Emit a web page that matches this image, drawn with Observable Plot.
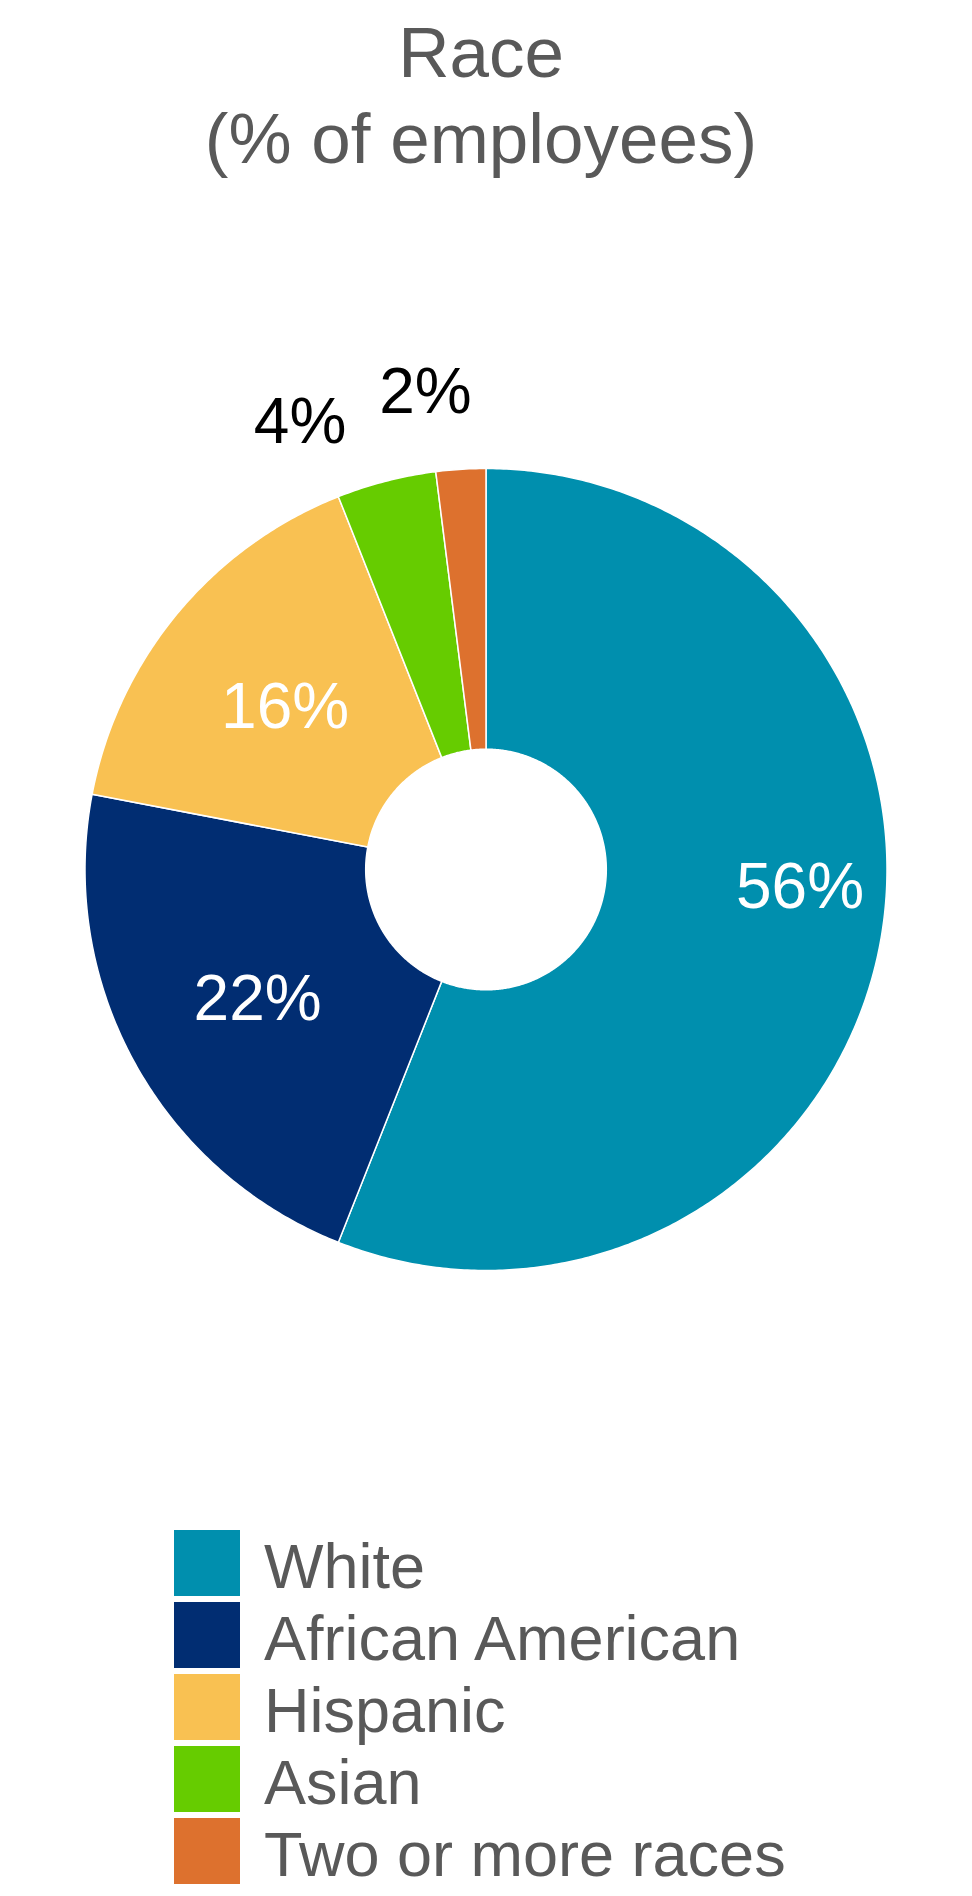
<!DOCTYPE html>
<html>
<head>
<meta charset="utf-8">
<script src="https://cdn.jsdelivr.net/npm/d3@7"></script>
<script src="https://cdn.jsdelivr.net/npm/@observablehq/plot@0.6"></script>
<style>
html, body { margin: 0; padding: 0; background: #fff; }
body { width: 972px; height: 1896px; position: relative; overflow: hidden; font-family: "Liberation Sans", Arial, sans-serif; }
#title { position: absolute; left: 0; top: 10px; width: 962px; text-align: center; font-size: 71px; line-height: 86px; color: #595959; }
#chart { position: absolute; left: 0; top: 319px; }
#legend { position: absolute; left: 174px; top: 1530px; }
.row { position: relative; height: 72px; }
.sw { position: absolute; left: 0; top: 0; width: 66px; height: 66px; }
.lab { position: absolute; left: 90px; top: 3.2px; font-size: 63px; line-height: 66px; color: #595959; white-space: nowrap; }
</style>
</head>
<body>
<div id="title">Race<br>(% of employees)</div>
<div id="chart"></div>
<div id="legend"></div>
<script>
// ---- data ----
const categories = ["White", "African American", "Hispanic", "Asian", "Two or more races"];
const shares = [56, 22, 16, 4, 2];
const colors = ["#008FAE", "#012D72", "#F9C152", "#66CC00", "#DD712E"];
const labelTexts = ["56%", "22%", "16%", "4%", "2%"];

// ---- geometry (units of outer radius) ----
const W = 972, H = 1100, CX = 485.5, CY = 550, RPX = 401;
const R_OUT = 1, R_IN = 0.3;
const total = d3.sum(shares);
let cum = 0;
const slices = categories.map((cat, i) => {
  const a0 = cum / total * 2 * Math.PI;
  cum += shares[i];
  const a1 = cum / total * 2 * Math.PI;
  return {cat, share: shares[i], label: labelTexts[i], a0, a1};
});

const ring = [];
for (const s of slices) {
  const n = Math.max(2, Math.ceil((s.a1 - s.a0) / (Math.PI / 360)));
  for (let i = 0; i <= n; i++) {
    const a = s.a0 + (s.a1 - s.a0) * i / n;
    ring.push({cat: s.cat, x: R_OUT * Math.sin(a), y: R_OUT * Math.cos(a)});
  }
  for (let i = n; i >= 0; i--) {
    const a = s.a0 + (s.a1 - s.a0) * i / n;
    ring.push({cat: s.cat, x: R_IN * Math.sin(a), y: R_IN * Math.cos(a)});
  }
}

// label placement: big slices inside at mid-angle, small slices outside
const labelNudge = {"White": [58, -35], "Asian": [-8, 0]}; // pixel nudge (style)
const labels = slices.map(s => {
  const inside = s.share >= 10;
  const a = inside ? (s.a0 + s.a1) / 2 : s.a0;
  const r = inside ? 0.65 : 1.205;
  const nudge = labelNudge[s.cat] || [0, 0];
  return {
    inside,
    text: s.label,
    x: r * Math.sin(a) + nudge[0] / RPX,
    y: r * Math.cos(a) - nudge[1] / RPX
  };
});

const chart = Plot.plot({
  width: W,
  height: H,
  margin: 0,
  style: {fontFamily: "'Liberation Sans', Arial, sans-serif", background: "transparent"},
  x: {domain: [-CX / RPX, (W - CX) / RPX], range: [0, W], axis: null},
  y: {domain: [-(H - CY) / RPX, CY / RPX], range: [H, 0], axis: null},
  color: {domain: categories, range: colors},
  marks: [
    Plot.line(ring, {x: "x", y: "y", z: "cat", fill: "cat", stroke: "white", strokeWidth: 1.5, curve: "linear-closed"}),
    Plot.text(labels.filter(d => d.inside), {x: "x", y: "y", text: "text", fill: "white", fontSize: 64, textAnchor: "middle", dy: 4}),
    Plot.text(labels.filter(d => !d.inside), {x: "x", y: "y", text: "text", fill: "black", fontSize: 64, textAnchor: "middle", dy: 2})
  ]
});
document.getElementById("chart").appendChild(chart);

// ---- legend ----
const legend = document.getElementById("legend");
categories.forEach((c, i) => {
  const row = document.createElement("div");
  row.className = "row";
  const sw = document.createElement("div");
  sw.className = "sw";
  sw.style.background = colors[i];
  const lab = document.createElement("div");
  lab.className = "lab";
  lab.textContent = c;
  row.appendChild(sw);
  row.appendChild(lab);
  legend.appendChild(row);
});
</script>
</body>
</html>
